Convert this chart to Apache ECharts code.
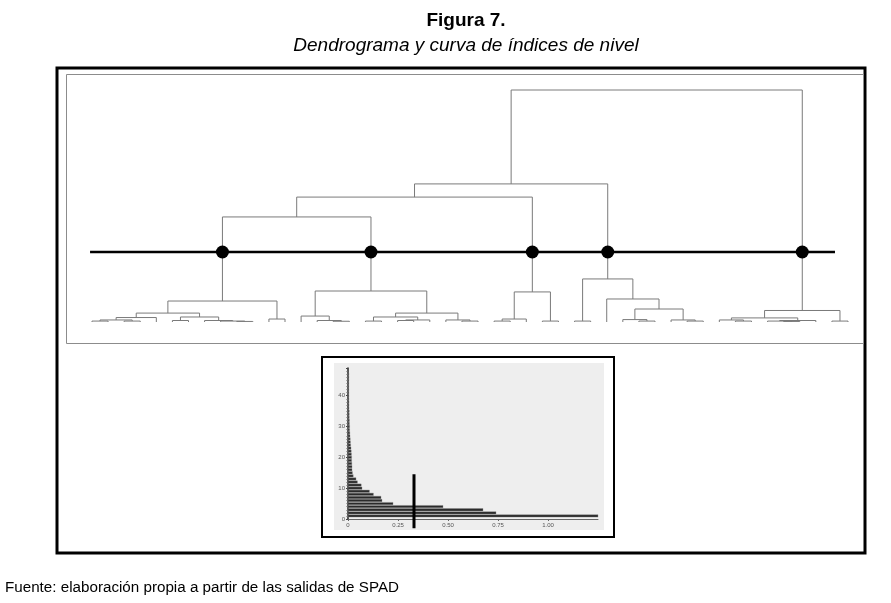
<!DOCTYPE html>
<html>
<head>
<meta charset="utf-8">
<script src="https://cdn.jsdelivr.net/npm/echarts@6/dist/echarts.min.js"></script>
<style>
  html, body { margin: 0; padding: 0; background: #fff; }
  #chart { width: 891px; height: 603px; }
</style>
</head>
<body>
<div id="chart"></div>
<script>
// hojas del dendrograma (48 individuos, en orden de dibujo)
var leafCount = 48;

// fusiones: [id, hijo izquierdo, hijo derecho, indice de nivel]
// numeros = hojas, textos = fusiones anteriores
var clusterA = [
  ['a1', 0, 1, 0.005], ['a2', 2, 3, 0.005], ['a3', 'a1', 'a2', 0.011],
  ['a4', 'a3', 4, 0.024], ['a5', 5, 6, 0.008], ['a6', 9, 10, 0.003],
  ['a7', 8, 'a6', 0.005], ['a8', 7, 'a7', 0.008], ['a9', 'a5', 'a8', 0.027],
  ['a10', 'a4', 'a9', 0.048], ['a11', 11, 12, 0.016], ['A', 'a10', 'a11', 0.113]
];
var clusterB = [
  ['b1', 15, 16, 0.004], ['b2', 14, 'b1', 0.008], ['b3', 13, 'b2', 0.032],
  ['b4', 17, 18, 0.005], ['b5', 19, 20, 0.008], ['b6', 'b5', 21, 0.011],
  ['b7', 'b4', 'b6', 0.027], ['b8', 23, 24, 0.005], ['b9', 22, 'b8', 0.011],
  ['b10', 'b7', 'b9', 0.048], ['B', 'b3', 'b10', 0.167]
];
var clusterC = [
  ['c1', 25, 26, 0.005], ['c2', 'c1', 27, 0.016], ['c3', 28, 29, 0.005],
  ['C', 'c2', 'c3', 0.162]
];
var clusterD = [
  ['d1', 30, 31, 0.005], ['d2', 34, 35, 0.005], ['d3', 33, 'd2', 0.013],
  ['d4', 37, 38, 0.005], ['d5', 36, 'd4', 0.011], ['d6', 'd3', 'd5', 0.070],
  ['d7', 32, 'd6', 0.124], ['D', 'd1', 'd7', 0.232]
];
var clusterE = [
  ['e1', 40, 41, 0.005], ['e2', 39, 'e1', 0.011], ['e3', 43, 44, 0.003],
  ['e4', 42, 'e3', 0.005], ['e5', 'e4', 45, 0.008], ['e6', 'e2', 'e5', 0.022],
  ['e7', 46, 47, 0.005], ['E', 'e6', 'e7', 0.062]
];
var topMerges = [
  ['m1', 'A', 'B', 0.566], ['m2', 'm1', 'C', 0.673],
  ['m3', 'm2', 'D', 0.744], ['m4', 'm3', 'E', 1.25]
];

// nivel de corte (5 clases)
var cutLevel = 0.377;
var cutFrom = -0.12;
var cutTo = 46.19;

// curva de indices de nivel (de la mayor a la menor)
var levelIndices = [
  1.25, 0.74, 0.675, 0.475, 0.225, 0.17, 0.165, 0.127, 0.107, 0.07,
  0.066, 0.047, 0.04, 0.026, 0.022, 0.02, 0.02, 0.019, 0.018, 0.018,
  0.017, 0.016, 0.015, 0.013, 0.012, 0.011, 0.01, 0.009, 0.008, 0.008,
  0.007, 0.007, 0.006, 0.006, 0.006, 0.005, 0.005, 0.005, 0.004, 0.004,
  0.004, 0.004, 0.003, 0.003, 0.003, 0.003, 0.003
];
var histCut = 0.33;

(function(){
  var myChart = echarts.init(document.getElementById('chart'));

  var merges = clusterA.concat(clusterB, clusterC, clusterD, clusterE, topMerges);
  var nodeX = {}, nodeH = {};
  for (var i = 0; i < leafCount; i++) { nodeX[i] = i; nodeH[i] = 0; }
  var links = [];
  var parentH = {};
  merges.forEach(function (m) {
    var l = m[1], r = m[2], h = m[3];
    links.push([nodeX[l], nodeH[l], nodeX[r], nodeH[r], h]);
    nodeX[m[0]] = (nodeX[l] + nodeX[r]) / 2;
    nodeH[m[0]] = h;
    parentH[l] = h;
    parentH[r] = h;
  });
  // clases: nodos que el corte atraviesa
  var dots = [];
  Object.keys(nodeH).forEach(function (k) {
    if (nodeH[k] < cutLevel && parentH[k] > cutLevel) dots.push([nodeX[k], cutLevel]);
  });

  var histData = levelIndices.map(function (v, i) { return [v, i + 1]; });

  var option = {
    animation: false,
    backgroundColor: '#fff',
    graphic: [
      { type: 'text', x: 466, y: 11, z: 10,
        style: { text: 'Figura 7.', textAlign: 'center', fill: '#000',
          font: 'bold 19px "Liberation Sans", Arial, sans-serif' } },
      { type: 'text', x: 466, y: 36, z: 10,
        style: { text: 'Dendrograma y curva de índices de nivel', textAlign: 'center', fill: '#000',
          font: 'italic 19px "Liberation Sans", Arial, sans-serif' } },
      { type: 'text', x: 5, y: 580, z: 10,
        style: { text: 'Fuente: elaboración propia a partir de las salidas de SPAD', fill: '#000',
          font: '15.2px "Liberation Sans", Arial, sans-serif' } },
      { type: 'rect', z: 0, shape: { x: 57, y: 68, width: 808, height: 485 },
        style: { fill: 'none', stroke: '#000', lineWidth: 3 } },
      { type: 'rect', z: 0, shape: { x: 66.5, y: 74.5, width: 797, height: 269 },
        style: { fill: 'none', stroke: '#8c8c8c', lineWidth: 1 } },
      { type: 'rect', z: 0, shape: { x: 322, y: 357, width: 292, height: 180 },
        style: { fill: '#fff', stroke: '#000', lineWidth: 2 } },
      { type: 'rect', z: 0, shape: { x: 334, y: 363, width: 270, height: 167 },
        style: { fill: '#eeeeee', stroke: 'none' } }
    ],
    grid: [
      { left: 75.9, right: 26.9, top: 90, height: 232 },
      { left: 348, right: 293, top: 368, height: 151 }
    ],
    xAxis: [
      { gridIndex: 0, type: 'value', min: -1, max: 48, show: false },
      { gridIndex: 1, type: 'value', min: 0, max: 1.25, interval: 0.25,
        axisLine: { show: true, lineStyle: { color: '#666', width: 1 } },
        axisTick: { show: true, length: 2, lineStyle: { color: '#666' } },
        splitLine: { show: false },
        axisLabel: { fontSize: 6, color: '#555', margin: 3, showMaxLabel: false,
          fontFamily: '"Liberation Sans", Arial, sans-serif',
          formatter: function (v) { return v === 0 ? '0' : v.toFixed(2); } } }
    ],
    yAxis: [
      { gridIndex: 0, type: 'value', min: 0, max: 1.25, show: false },
      { gridIndex: 1, type: 'value', min: 0, max: 49, interval: 10,
        axisLine: { show: true, lineStyle: { color: '#222', width: 1.5 } },
        axisTick: { show: true, length: 2, lineStyle: { color: '#444' } },
        minorTick: { show: true, splitNumber: 10, length: 1.5, lineStyle: { color: '#666' } },
        splitLine: { show: false },
        axisLabel: { fontSize: 6, color: '#555', margin: 3, showMaxLabel: false,
          fontFamily: '"Liberation Sans", Arial, sans-serif' } }
    ],
    series: [
      {
        type: 'custom', xAxisIndex: 0, yAxisIndex: 0, z: 3, silent: true,
        data: links,
        renderItem: function (params, api) {
          var a = api.coord([api.value(0), api.value(1)]);
          var b = api.coord([api.value(0), api.value(4)]);
          var c = api.coord([api.value(2), api.value(4)]);
          var d = api.coord([api.value(2), api.value(3)]);
          return { type: 'polyline', shape: { points: [a, b, c, d] },
            style: { stroke: '#7a7a7a', lineWidth: 1, fill: null } };
        }
      },
      {
        type: 'line', xAxisIndex: 0, yAxisIndex: 0, z: 4, silent: true,
        data: [[cutFrom, cutLevel], [cutTo, cutLevel]],
        symbol: 'none', lineStyle: { color: '#000', width: 2.5 }
      },
      {
        type: 'scatter', xAxisIndex: 0, yAxisIndex: 0, z: 5, silent: true,
        data: dots, symbolSize: 13, itemStyle: { color: '#000', opacity: 1 }
      },
      {
        type: 'custom', xAxisIndex: 1, yAxisIndex: 1, z: 3, silent: true,
        data: histData,
        renderItem: function (params, api) {
          var p0 = api.coord([0, api.value(1)]);
          var p1 = api.coord([api.value(0), api.value(1)]);
          return { type: 'rect',
            shape: { x: p0[0], y: p0[1] - 1.2, width: Math.max(p1[0] - p0[0], 0.8), height: 2.4 },
            style: { fill: '#2a2a2a', stroke: '#8a8a8a', lineWidth: 0.4 } };
        }
      },
      {
        type: 'line', xAxisIndex: 1, yAxisIndex: 1, z: 5, silent: true, clip: false,
        data: [[histCut, -3], [histCut, 14.5]],
        symbol: 'none', lineStyle: { color: '#000', width: 3 }
      }
    ]
  };
  myChart.setOption(option);
  window.addEventListener('resize', function () { myChart.resize(); });
})();
</script>
</body>
</html>
